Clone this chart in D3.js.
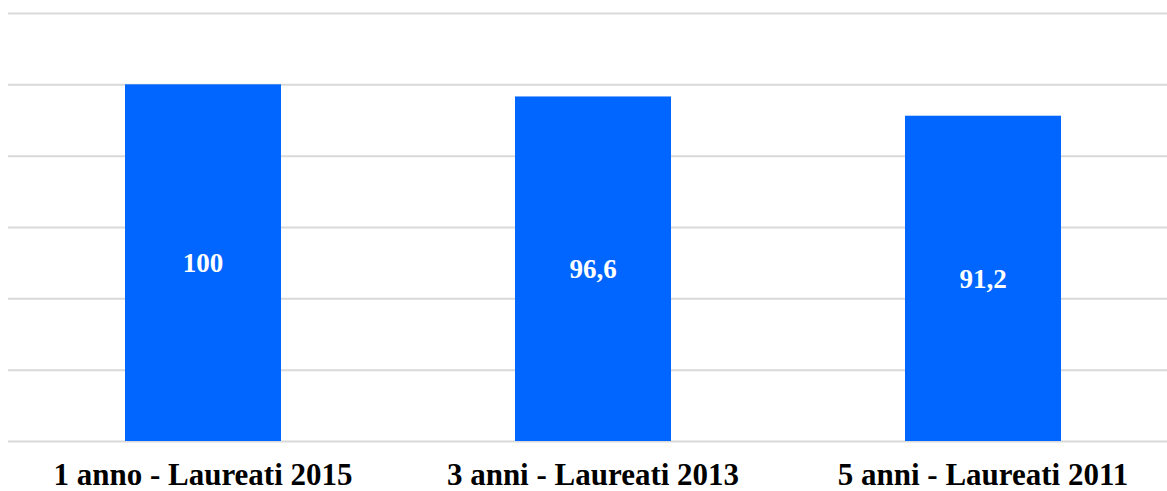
<!DOCTYPE html>
<head>
<meta charset="utf-8">
<script src="https://d3js.org/d3.v7.min.js"></script>
</head>
<style>
body { margin: 0; background: #fff; }
.grid line { stroke: #d9d9d9; stroke-width: 2px; }
.grid .domain { display: none; }
.cat text { font-family: "Liberation Serif", serif; font-weight: bold; font-size: 31px; fill: #000; }
.val { font-family: "Liberation Serif", serif; font-weight: bold; font-size: 27px; fill: #fff; }
</style>
<body>
<script>
var categories = ["1 anno - Laureati 2015", "3 anni - Laureati 2013", "5 anni - Laureati 2011"];
var values = [100, 96.6, 91.2];
var valueLabels = ["100", "96,6", "91,2"];
var yTicks = [0, 20, 40, 60, 80, 100, 120];

var width = 1167, height = 491;
var plotTop = 13, plotBottom = 441;

var svg = d3.select("body").append("svg")
    .attr("width", width)
    .attr("height", height);

var x = d3.scaleBand().domain(categories).range([8, 1178]).paddingInner(0).paddingOuter(0);
var y = d3.scaleLinear().domain([0, 120]).range([plotBottom, plotTop]);

// gridlines
svg.append("g")
    .attr("class", "grid")
    .attr("transform", "translate(8,0)")
    .call(d3.axisLeft(y).tickValues(yTicks).tickSize(-1200).tickFormat(""));

var barW = 156;
svg.selectAll(".bar")
    .data(values)
  .enter().append("rect")
    .attr("class", "bar")
    .attr("x", function(d, i) { return x(categories[i]) + x.bandwidth() / 2 - barW / 2; })
    .attr("y", function(d) { return y(d); })
    .attr("width", barW)
    .attr("height", function(d) { return y(0) - y(d); })
    .attr("fill", "#0066ff");

svg.selectAll(".val")
    .data(values)
  .enter().append("text")
    .attr("class", "val")
    .attr("x", function(d, i) { return x(categories[i]) + x.bandwidth() / 2; })
    .attr("y", function(d) { return (y(d) + y(0)) / 2; })
    .attr("dy", "0.35em")
    .attr("text-anchor", "middle")
    .text(function(d, i) { return valueLabels[i]; });

var xAxis = svg.append("g")
    .attr("class", "cat")
    .attr("transform", "translate(0," + plotBottom + ")")
    .call(d3.axisBottom(x).tickSize(0).tickPadding(0));
xAxis.select(".domain").remove();
xAxis.selectAll("text").attr("y", 44).attr("dy", 0);
</script>
</body>
